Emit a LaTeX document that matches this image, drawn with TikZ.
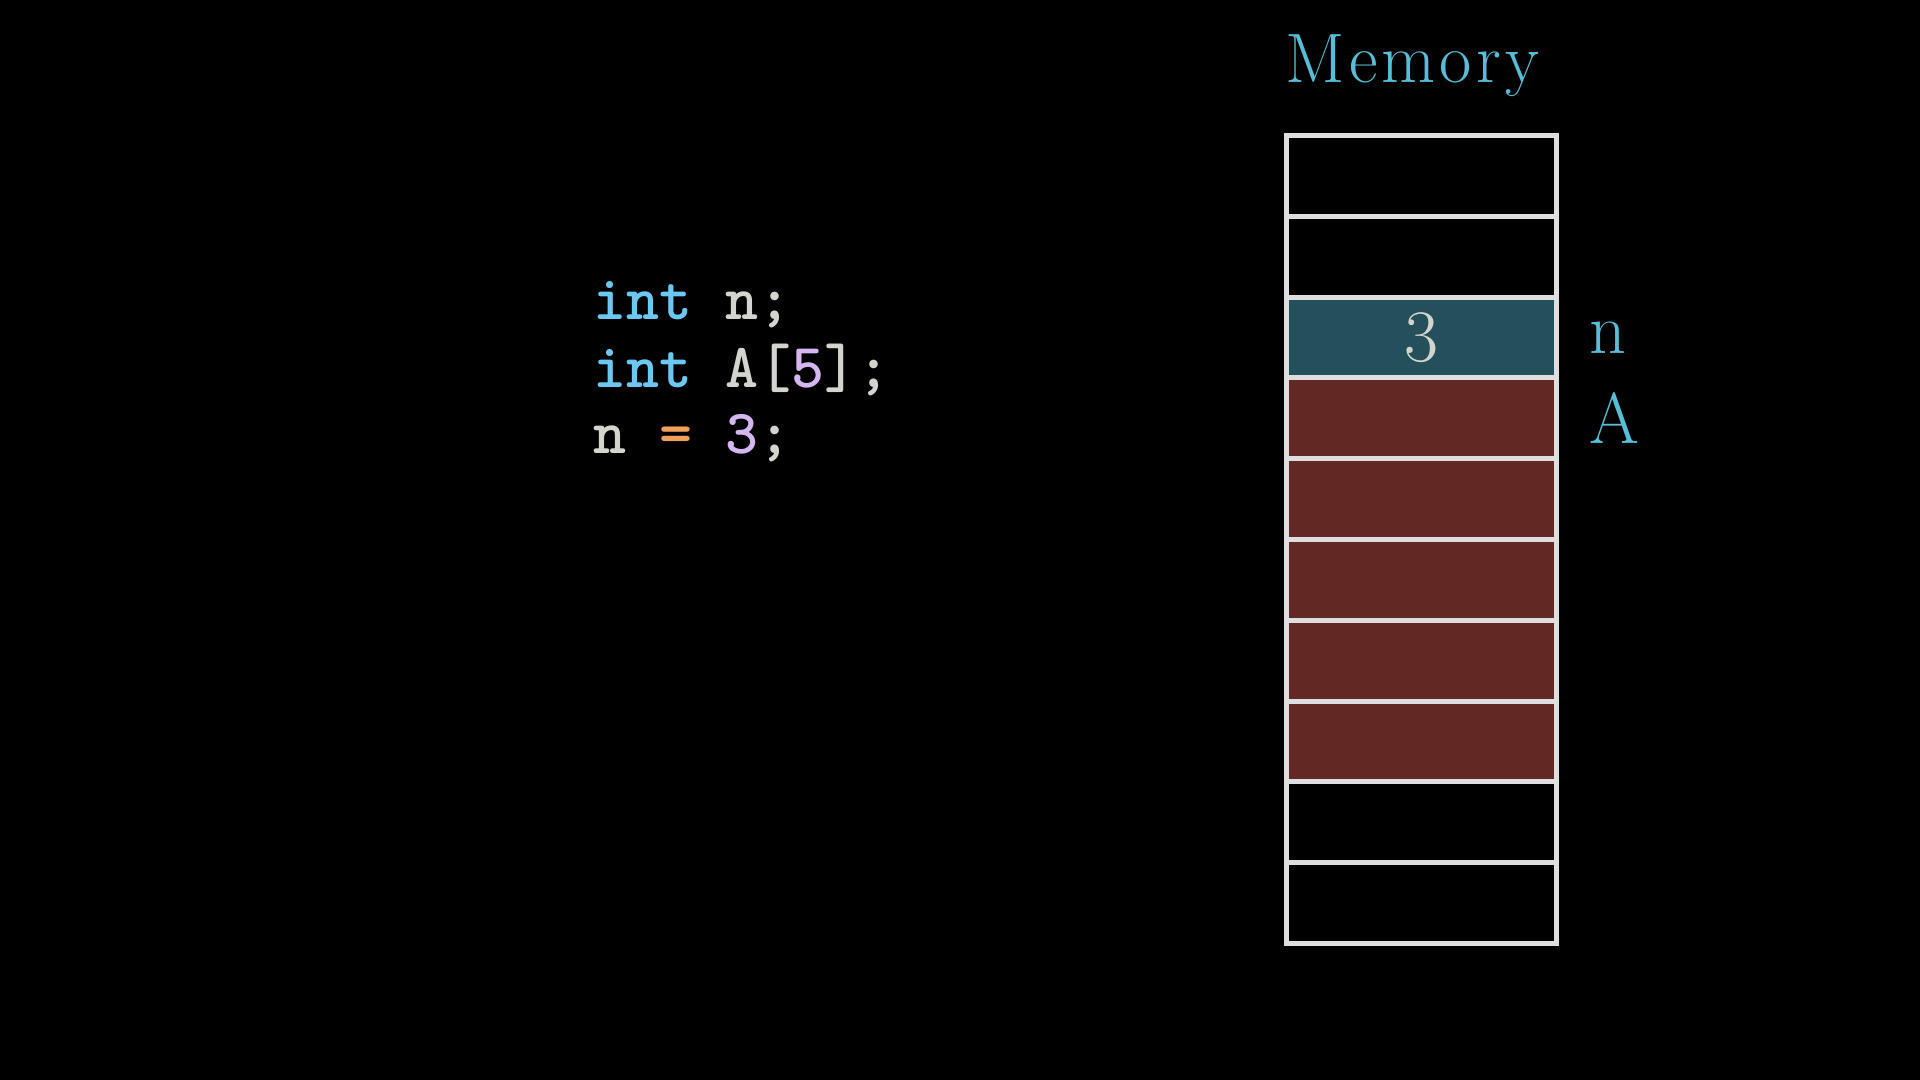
\documentclass[tikz,border=0pt]{standalone}
\usepackage{fontspec}
\newfontfamily\memfont[LetterSpace=6]{Latin Modern Roman}
\definecolor{kw}{RGB}{108,200,240}
\definecolor{idc}{RGB}{212,212,206}
\definecolor{opc}{RGB}{240,160,90}
\definecolor{numc}{RGB}{212,182,240}
\definecolor{memblue}{RGB}{88,190,216}
\definecolor{cellline}{RGB}{222,222,222}
\definecolor{tealc}{RGB}{35,80,90}
\definecolor{redc}{RGB}{98,40,35}
\begin{document}
\begin{tikzpicture}[x=0.5pt,y=-0.5pt,
  cell/.style={draw=cellline,line width=2.5pt,rectangle,minimum width=135pt,minimum height=40.4pt,inner sep=0pt,text=idc,font=\fontsize{36}{36}\selectfont},
  emptycell/.style={cell,fill=black},
  ncell/.style={cell,fill=tealc},
  acell/.style={cell,fill=redc},
  lbl/.style={text=memblue,font=\fontsize{36}{36}\selectfont,anchor=base west,inner sep=0pt},
  code/.style={font=\ttfamily\bfseries\fontsize{31.4}{31.4}\selectfont,anchor=base west,inner sep=0pt,text=idc}]
\fill[black] (0,0) rectangle (1920,1080);
\useasboundingbox (0,0) rectangle (1920,1080);
% code
\node[code] (l1) at (593,320) {\textcolor{kw}{int} n;};
\node[code] (l2) at (593,387) {\textcolor{kw}{int} A[\textcolor{numc}{5}];};
\node[code] (l3) at (593,453) {n \textcolor{opc}{=} \textcolor{numc}{3};};
% memory
\node[lbl,font=\memfont\fontsize{35}{35}\selectfont] (mem) at (1285,83) {Memory};
\node[emptycell] (c0) at (1421,175.9) {};
\node[emptycell] (c1) at (1421,256.7) {};
\node[acell] (c3) at (1421,418.3) {};
\node[acell] (c4) at (1421,499.1) {};
\node[acell] (c5) at (1421,579.9) {};
\node[acell] (c6) at (1421,660.7) {};
\node[acell] (c7) at (1421,741.5) {};
\node[emptycell] (c8) at (1421,822.3) {};
\node[emptycell] (c9) at (1421,903.1) {};
\node[ncell] (c2) at (1421,337.5) {};
\node[text=idc,font=\fontsize{37}{37}\selectfont,anchor=base,inner sep=0pt] (v) at (1421,362) {3};
\node[lbl] (nl) at (1589,353) {n};
\node[lbl] (al) at (1589,443) {A};
\end{tikzpicture}
\end{document}
